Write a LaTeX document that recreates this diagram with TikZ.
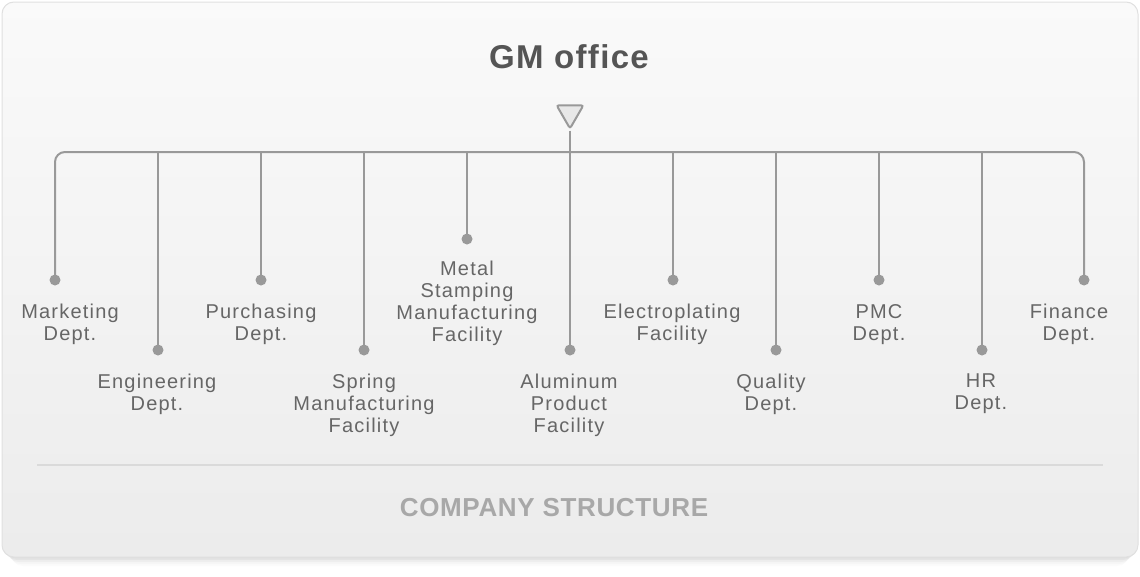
\documentclass[tikz,border=0pt]{standalone}
\usepackage{fontspec}
\setmainfont{Liberation Sans}
\newfontfamily\lblfont[LetterSpace=6]{Liberation Sans}
\newfontfamily\ttlfont[LetterSpace=4]{Liberation Sans}
\newfontfamily\ftfont[LetterSpace=2.5]{Liberation Sans}
\usetikzlibrary{shapes.geometric}
\definecolor{ln}{HTML}{999999}
\definecolor{txt}{HTML}{666666}
\definecolor{ttlc}{HTML}{555555}
\definecolor{foot}{HTML}{A8A8A8}
\definecolor{sep}{HTML}{DADADA}
\definecolor{tri}{HTML}{E8E8E8}
\tikzset{
  dotst/.style={circle,fill=ln,inner sep=0,minimum size=11pt},
  conn/.style={draw=ln,line width=2pt},
  lbl/.style={anchor=north,inner sep=0,align=center,text=txt,font=\fontsize{20}{22}\selectfont\lblfont},
}
\begin{document}
\begin{tikzpicture}[x=1pt,y=-1pt]
\useasboundingbox (0,0) rectangle (1140,576);
% shadow
\foreach \i/\o in {1/0.05,3/0.04,5/0.03,7/0.02,9/0.015} {
  \fill[black,opacity=\o,rounded corners=12] (2+\i,8) rectangle (1138-\i,557+\i);
}
% card
\shade[top color=white!98!black, bottom color=black!7.5, rounded corners=12, draw=black!12, line width=1pt] (2,2) rectangle (1138,557);
% title
\node[text=ttlc,font=\fontsize{33}{38}\selectfont\bfseries\ttlfont] (gm) at (569,57) {GM office};
% triangle
\node[regular polygon,regular polygon sides=3,shape border rotate=180,minimum size=31pt,inner sep=0,fill=tri,draw=ln,line width=2pt,rounded corners=2.5pt] (tri) at (570,113) {};
% bus coordinates
\foreach \n/\x in {1/55,2/158,3/261,4/364,5/467,6/570,7/673,8/776,9/879,10/982,11/1084} {
  \coordinate (b\n) at (\x,152);
}
% dots
\node[dotst] (d1) at (55,280) {};
\node[dotst] (d2) at (158,350) {};
\node[dotst] (d3) at (261,280) {};
\node[dotst] (d4) at (364,350) {};
\node[dotst] (d5) at (467,239) {};
\node[dotst] (d6) at (570,350) {};
\node[dotst] (d7) at (673,280) {};
\node[dotst] (d8) at (776,350) {};
\node[dotst] (d9) at (879,280) {};
\node[dotst] (d10) at (982,350) {};
\node[dotst] (d11) at (1084,280) {};
% connectors
\draw[conn,rounded corners=10pt] (d1.center) -- (b1) -- (b11) -- (d11.center);
\foreach \n in {2,3,4,5,7,8,9,10} { \draw[conn] (b\n) -- (d\n.center); }
\draw[conn] (tri.south) -- (d6.center);
% labels
\node[lbl] (l1) at (70,304) {Marketing\\Dept.};
\node[lbl] (l2) at (157,374) {Engineering\\Dept.};
\node[lbl] (l3) at (261,304) {Purchasing\\Dept.};
\node[lbl] (l4) at (364,374) {Spring\\Manufacturing\\Facility};
\node[lbl] (l5) at (467,261) {Metal\\Stamping\\Manufacturing\\Facility};
\node[lbl] (l6) at (569,374) {Aluminum\\Product\\Facility};
\node[lbl] (l7) at (672,304) {Electroplating\\Facility};
\node[lbl] (l8) at (771,374) {Quality\\Dept.};
\node[lbl] (l9) at (879,304) {PMC\\Dept.};
\node[lbl] (l10) at (981,374) {HR\\Dept.};
\node[lbl] (l11) at (1069,304) {Finance\\Dept.};
% separator
\coordinate (s1) at (37,465);
\coordinate (s2) at (1103,465);
\draw[sep,line width=1.2pt] (s1) -- (s2);
% footer
\node[text=foot,font=\fontsize{26}{30}\selectfont\bfseries\ftfont] (ft) at (554,508) {COMPANY STRUCTURE};
\end{tikzpicture}
\end{document}
